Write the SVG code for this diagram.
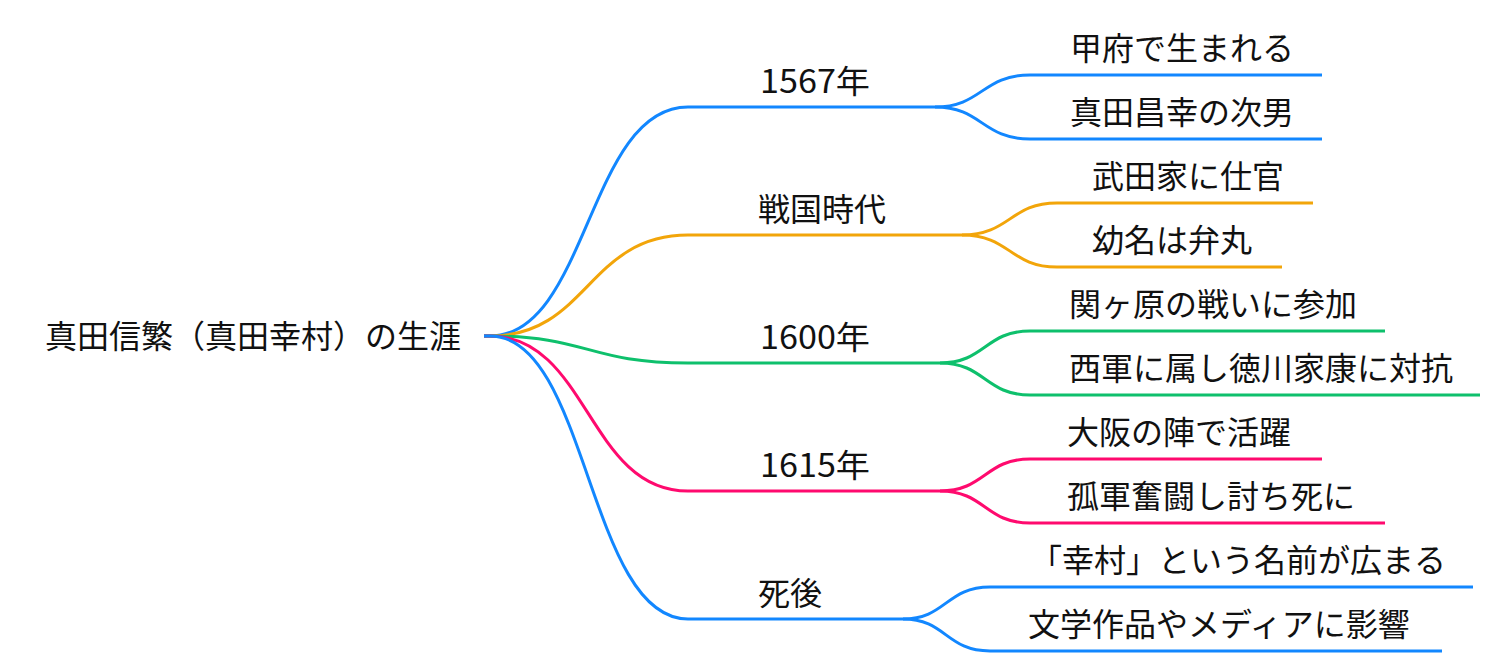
<svg xmlns="http://www.w3.org/2000/svg" width="1502" height="672" viewBox="0 0 1502 672">
<style>
text{font-family:"Noto Sans CJK JP","Noto Sans CJK SC",sans-serif;font-size:32px;fill:#111}
.e{fill:none;stroke-width:3}
.b{stroke:#1287FF}
.o{stroke:#F2A50A}
.g{stroke:#0EC06C}
.p{stroke:#FF0A6E}
</style>
<rect width="1502" height="672" fill="#fff"/>
<g id="connectors">
<path class="e b" d="M484,336 L490,336 C588,336 588,107 688,107 L935,107"/>
<path class="e o" d="M484,336 L490,336 C588,336 588,235 688,235 L962,235"/>
<path class="e g" d="M484,336 L490,336 C588,336 588,363 688,363 L940,363"/>
<path class="e p" d="M484,336 L490,336 C588,336 588,491 688,491 L940,491"/>
<path class="e b" d="M484,336 L490,336 C588,336 588,619 688,619 L903,619"/>
<path class="e b" d="M935,107 C982,107 982,75 1030,75 L1322,75"/>
<path class="e b" d="M935,107 C982,107 982,139 1030,139 L1322,139"/>
<path class="e o" d="M962,235 C1010,235 1010,203 1057,203 L1313,203"/>
<path class="e o" d="M962,235 C1010,235 1010,267 1057,267 L1282,267"/>
<path class="e g" d="M940,363 C985,363 985,331 1030,331 L1385,331"/>
<path class="e g" d="M940,363 C985,363 985,395 1030,395 L1480,395"/>
<path class="e p" d="M940,491 C985,491 985,459 1030,459 L1322,459"/>
<path class="e p" d="M940,491 C985,491 985,523 1030,523 L1385,523"/>
<path class="e b" d="M903,619 C946,619 946,587 990,587 L1473,587"/>
<path class="e b" d="M903,619 C946,619 946,651 990,651 L1442,651"/>
</g>
<g id="root"><text x="45" y="348">真田信繁（真田幸村）の生涯</text></g>
<g id="n1567"><text x="760" y="93" textLength="110" lengthAdjust="spacingAndGlyphs">1567年</text></g>
<g id="n1567a"><text x="1070" y="60">甲府で生まれる</text></g>
<g id="n1567b"><text x="1070" y="124">真田昌幸の次男</text></g>
<g id="nsengoku"><text x="758" y="221">戦国時代</text></g>
<g id="nsengokua"><text x="1092" y="188">武田家に仕官</text></g>
<g id="nsengokub"><text x="1092" y="252">幼名は弁丸</text></g>
<g id="n1600"><text x="760" y="349" textLength="110" lengthAdjust="spacingAndGlyphs">1600年</text></g>
<g id="n1600a"><text x="1069" y="316">関ヶ原の戦いに参加</text></g>
<g id="n1600b"><text x="1069" y="380">西軍に属し徳川家康に対抗</text></g>
<g id="n1615"><text x="760" y="477" textLength="110" lengthAdjust="spacingAndGlyphs">1615年</text></g>
<g id="n1615a"><text x="1067" y="444">大阪の陣で活躍</text></g>
<g id="n1615b"><text x="1067" y="508">孤軍奮闘し討ち死に</text></g>
<g id="nshigo"><text x="758" y="605">死後</text></g>
<g id="nshigoa"><text x="1030" y="572">「幸村」という名前が広まる</text></g>
<g id="nshigob"><text x="1028" y="636">文学作品やメディアに影響</text></g>
</svg>
